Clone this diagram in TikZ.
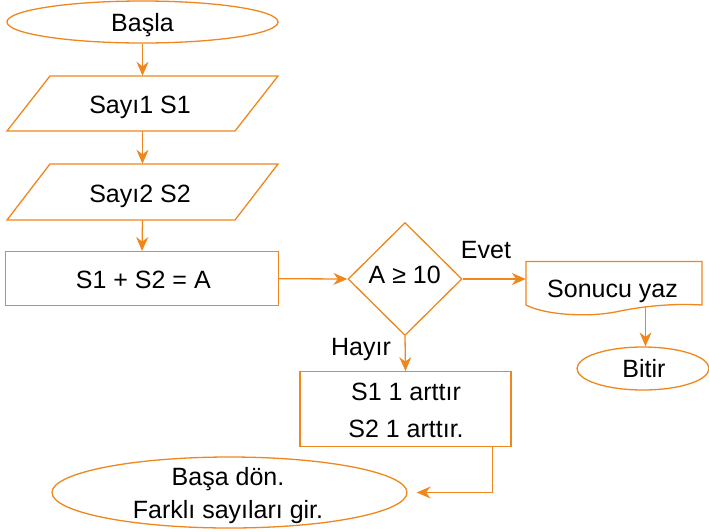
\documentclass[tikz,border=0pt]{standalone}
\usepackage{fontspec}
\setmainfont{Liberation Sans}
\usetikzlibrary{arrows.meta,shapes.geometric}
\definecolor{flow}{RGB}{240,135,28}
\tikzset{
  shapebox/.style={draw=flow,line width=1.3pt,inner sep=0pt,fill=white},
  anchorbox/.style={inner sep=0pt,draw=none},
  txt/.style={anchor=base,inner sep=0pt,font=\fontsize{25}{30}\selectfont},
  arr/.style={draw=flow,line width=1.3pt,-{Stealth[length=14pt,width=12pt,inset=4.5pt]}},
  conn/.style={draw=flow,line width=1.3pt},
}
\begin{document}
\begin{tikzpicture}[x=1pt,y=-1pt]
\useasboundingbox (0,0) rectangle (709,531);
% start
\node[shapebox,ellipse,minimum width=271,minimum height=42] (start) at (142.5,22) {};
% input 1
\node[anchorbox,minimum width=271,minimum height=55] (in1) at (142.5,103.5) {};
\draw[conn] (50,76) -- (278,76) -- (235,131) -- (7,131) -- cycle;
% input 2
\node[anchorbox,minimum width=271,minimum height=56] (in2) at (142.5,192) {};
\draw[conn] (50,164) -- (278,164) -- (235,220) -- (7,220) -- cycle;
% process
\node[shapebox,rectangle,minimum width=272.5,minimum height=54] (sum) at (142,278.7) {};
% decision
\node[shapebox,diamond,minimum width=114,minimum height=113] (dec) at (405,279) {};
% document
\node[anchorbox,minimum width=176,minimum height=44] (doc) at (614,283.5) {};
\draw[conn] (526,305) -- (526,261.5) -- (702,261.5) -- (702,305)
  .. controls (670,303) and (640,307) .. (620,311)
  .. controls (590,318) and (545,315) .. (526,305) -- cycle;
\coordinate (docb) at (645.5,307);
% end
\node[shapebox,ellipse,minimum width=132,minimum height=43] (stop) at (643,368.5) {};
% increment
\node[shapebox,rectangle,minimum width=211,minimum height=74.5] (inc) at (405.5,409) {};
% back
\node[shapebox,ellipse,minimum width=355,minimum height=71] (back) at (229.5,492.5) {};

% texts
\node[txt] (t1) at (142.5,31.7) {Başla};
\node[txt] (t2) at (140,113.3) {Sayı1 S1};
\node[txt] (t3) at (140,202.3) {Sayı2 S2};
\node[txt] (t4) at (143.3,288.3) {S1 + S2 = A};
\node[txt] (t5) at (404.7,283.3) {A ≥ 10};
\node[txt] (t6) at (612.5,297.5) {Sonucu yaz};
\node[txt] (t7) at (644,377.7) {Bitir};
\node[txt] (t8) at (406,400) {S1 1 arttır};
\node[txt] (t9) at (406,437) {S2 1 arttır.};
\node[txt] (t10) at (228,485.7) {Başa dön.};
\node[txt] (t11) at (228,518) {Farklı sayıları gir.};
\node[txt] (evet) at (486,258) {Evet};
\node[txt] (hayir) at (361,355) {Hayır};

% connectors
\draw[arr] (start.south) -- (in1.north);
\draw[arr] (in1.south) -- (in2.north);
\draw[arr] (in2.south) -- (sum.north);
\draw[arr] (sum.east) -- (dec.west);
\draw[arr] (dec.east) -- (dec.east -| doc.west);
\draw[arr] (docb) -- (docb |- stop.north);
\draw[arr] (dec.south) -- (inc.north);
\draw[arr] ([xshift=-19.5pt]inc.south east) |- ([xshift=9pt]back.east);
\end{tikzpicture}
\end{document}
